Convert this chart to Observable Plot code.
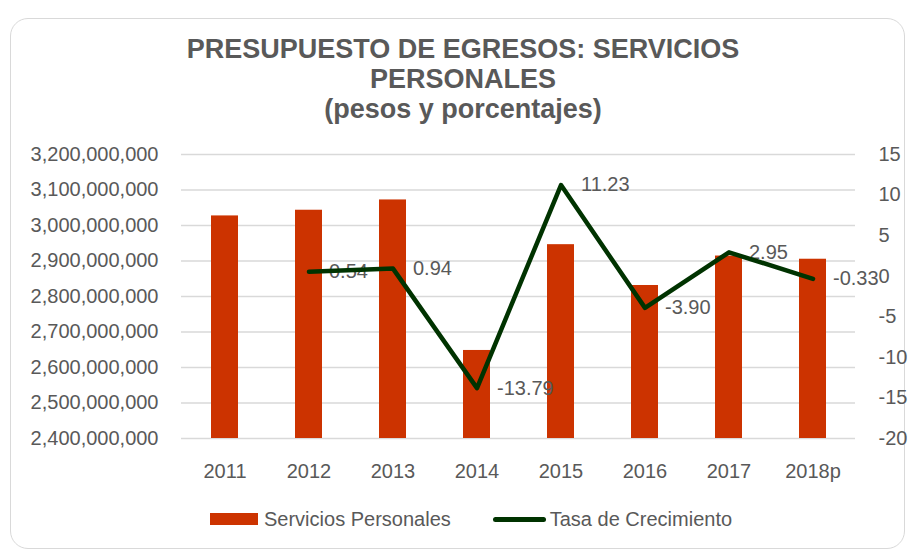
<!DOCTYPE html>
<html>
<head>
<meta charset="utf-8">
<script src="https://cdn.jsdelivr.net/npm/d3@7"></script>
<script src="https://cdn.jsdelivr.net/npm/@observablehq/plot@0.6"></script>
<style>
  html, body { margin: 0; padding: 0; background: #fff; }
  #wrap { position: relative; width: 912px; height: 552px; overflow: hidden;
          font-family: "Liberation Sans", Arial, sans-serif; color: #595959; }
  #frame { position: absolute; left: 10px; top: 18px; width: 895px; height: 531px;
           border: 1.5px solid #d9d9d9; border-radius: 18px; box-sizing: border-box; }
  #title { position: relative; margin: 0; padding-top: 34px; padding-left: 14px; text-align: center;
           font-weight: bold; font-size: 27px; line-height: 30px; color: #595959; }
  #chart { position: relative; width: 912px; height: 366px; }
  #chart svg { position: absolute; left: 0; top: 0; }
  #legend { position: relative; display: flex; align-items: center; height: 20px; margin-top: 19px;
            padding-left: 210px; font-size: 20px; line-height: 20px; color: #595959; white-space: nowrap; }
  .sw-bar { display: inline-block; width: 48px; height: 12px; margin-right: 6px; }
  .sw-line { display: inline-block; width: 53px; height: 5px; border-radius: 3px; margin-right: 4px; }
  .gap { display: inline-block; width: 42px; }
</style>
</head>
<body>
<div id="wrap">
  <div id="frame"></div>
  <div id="title">PRESUPUESTO DE EGRESOS: SERVICIOS<br>PERSONALES<br>(pesos y porcentajes)</div>
  <div id="chart"></div>
  <div id="legend"></div>
</div>
<script>
// ---- data ----
const years = ["2011", "2012", "2013", "2014", "2015", "2016", "2017", "2018p"];
const serviciosPersonales = [3027000000, 3043000000, 3072000000, 2648000000, 2946000000, 2831000000, 2914000000, 2905000000];
const tasaCrecimiento = [null, 0.54, 0.94, -13.79, 11.23, -3.90, 2.95, -0.33];
const leftTicks = [2400000000, 2500000000, 2600000000, 2700000000, 2800000000, 2900000000, 3000000000, 3100000000, 3200000000];
const rightTicks = [-20, -15, -10, -5, 0, 5, 10, 15];
const seriesNames = ["Servicios Personales", "Tasa de Crecimiento"];
const barColor = "#cc3300";
const lineColor = "#003300";

const barRows = years.map((year, i) => ({year, value: serviciosPersonales[i]}));
const rateRows = years.map((year, i) => ({year, rate: tasaCrecimiento[i]})).filter(d => d.rate != null);

const W = 912, H = 366;
const margins = {marginLeft: 181, marginRight: 57, marginTop: 30, marginBottom: 52};
const font = {fontFamily: '"Liberation Sans", Arial, sans-serif', fontSize: "20px", color: "#595959", background: "transparent"};
const xBand = {type: "band", domain: years, paddingInner: 0.68, paddingOuter: 0.34};

const barsPlot = Plot.plot({
  width: W, height: H, ...margins,
  style: font,
  x: {...xBand, tickSize: 0, tickPadding: 25, label: null},
  y: {domain: [leftTicks[0], leftTicks[leftTicks.length - 1]], ticks: leftTicks,
      tickFormat: d3.format(","), tickSize: 0, tickPadding: 23, label: null},
  marks: [
    Plot.ruleY(leftTicks, {stroke: "#d9d9d9", strokeWidth: 1.4}),
    Plot.barY(barRows, {x: "year", y1: leftTicks[0], y2: "value", fill: barColor})
  ]
});

const linePlot = Plot.plot({
  width: W, height: H, ...margins,
  style: font,
  x: {...xBand, axis: null},
  y: {domain: [rightTicks[0], rightTicks[rightTicks.length - 1]], axis: "right", ticks: rightTicks,
      tickFormat: d => String(d), tickSize: 0, tickPadding: 23, label: null},
  marks: [
    Plot.text(rateRows, {x: "year", y: "rate", text: d => d.rate.toFixed(2), dx: 20,
                         textAnchor: "start", fill: "#595959"}),
    Plot.line(rateRows, {x: "year", y: "rate", stroke: lineColor, strokeWidth: 4.5,
                         strokeLinejoin: "round", strokeLinecap: "round"})
  ]
});

const chart = document.getElementById("chart");
chart.appendChild(barsPlot);
chart.appendChild(linePlot);

const legend = document.getElementById("legend");
legend.innerHTML =
  `<span class="sw-bar" style="background:${barColor}"></span><span>${seriesNames[0]}</span>` +
  `<span class="gap"></span>` +
  `<span class="sw-line" style="background:${lineColor}"></span><span>${seriesNames[1]}</span>`;
</script>
</body>
</html>
